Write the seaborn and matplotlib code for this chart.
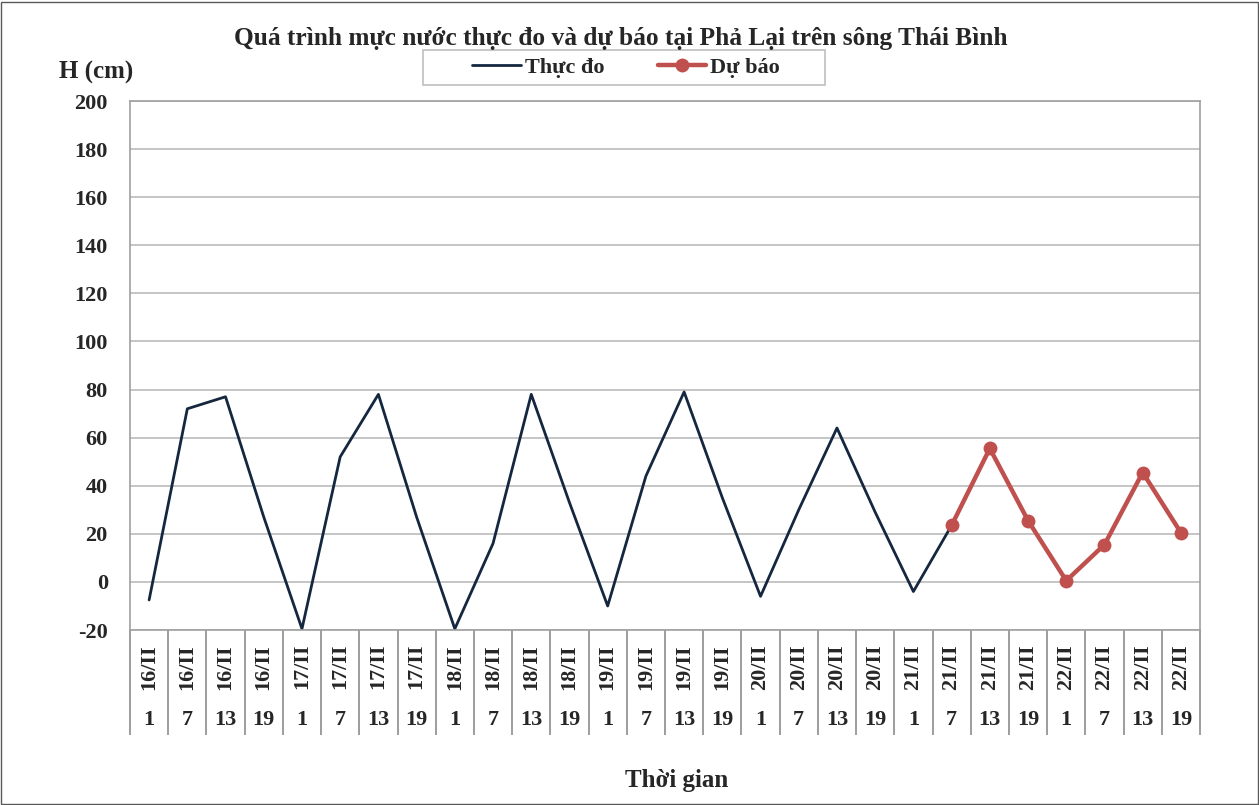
import numpy as np
import pandas as pd
import matplotlib
matplotlib.use("Agg")
import matplotlib.pyplot as plt
from matplotlib.patches import Rectangle
import seaborn as sns

# ---- data ----
dates = ["16/II"] * 4 + ["17/II"] * 4 + ["18/II"] * 4 + ["19/II"] * 4 + \
        ["20/II"] * 4 + ["21/II"] * 4 + ["22/II"] * 4
hours = [1, 7, 13, 19] * 7
observed = [-7.5, 72, 77, 27, -19.5, 52, 78, 27, -19.5, 16, 78, 33,
            -10, 44, 79, 35, -6, 30, 64, 29, -4, 23.5]
forecast = [23.5, 55.5, 25.5, 0.5, 15.5, 45.5, 20.5]
forecast_start = 21
yticks = list(range(-20, 201, 20))

title = "Quá trình mực nước thực đo và dự báo tại Phả Lại trên sông Thái Bình"
label_obs = "Thực đo"
label_fc = "Dự báo"

# ---- style ----
sns.set_style("white")
plt.rcParams["font.family"] = ["Liberation Serif", "DejaVu Serif"]
plt.rcParams["font.weight"] = "bold"

fig = plt.figure(figsize=(12.59, 8.05), dpi=100)
ax = fig.add_axes([130 / 1259, 1 - 630 / 805, 1070 / 1259, 529 / 805])

n = len(hours)
df_obs = pd.DataFrame({"idx": np.arange(len(observed)), "H": observed})
df_fc = pd.DataFrame({"idx": np.arange(forecast_start, forecast_start + len(forecast)), "H": forecast})

sns.lineplot(data=df_obs, x="idx", y="H", ax=ax, color="#15273F", linewidth=2.0,
             label=label_obs, legend=False)
sns.lineplot(data=df_fc, x="idx", y="H", ax=ax, color="#C0504D", linewidth=3.2,
             marker="o", markersize=10, markeredgewidth=0, label=label_fc, legend=False)

ax.set_xlim(-0.5, n - 0.5)
ax.set_ylim(-20, 200)
ax.set_yticks(yticks)
ax.set_yticklabels([str(v) for v in yticks], fontsize=16, fontweight="bold")
ax.yaxis.grid(True, color="#C0C0C0", linewidth=1.3)
ax.set_axisbelow(True)
ax.tick_params(axis="y", length=0, pad=16)
for s in ax.spines.values():
    s.set_color("#A0A0A0")
    s.set_linewidth(1.2)

# x axis: two-level category labels
ax.set_xticks(np.arange(n))
ax.set_xticklabels(dates, rotation=90, fontsize=16, fontweight="bold", va="top")
ax.tick_params(axis="x", which="major", length=0, pad=10, bottom=True)
ax.set_xticks(np.arange(-0.5, n), minor=True)
ax.tick_params(axis="x", which="minor", bottom=True, length=75.6, color="#8C8C8C",
               width=1.2, direction="out")
trans = ax.get_xaxis_transform()
for i, h in enumerate(hours):
    ax.text(i, -0.170, str(h), transform=trans, ha="center", va="center",
            fontsize=16, fontweight="bold")

ax.set_xlabel("")
ax.set_ylabel("")

fig.text(621 / 1259, 1 - 38 / 805, title, ha="center", va="center",
         fontsize=18.3, fontweight="bold")
fig.text(96 / 1259, 1 - 72 / 805, "H (cm)", ha="center", va="center",
         fontsize=18, fontweight="bold")
fig.text(677 / 1259, 1 - 780 / 805, "Thời gian", ha="center", va="center",
         fontsize=18, fontweight="bold")

leg = fig.legend(loc="center", bbox_to_anchor=(626 / 1259, 1 - 68 / 805), ncol=2,
                 frameon=False,
                 prop={"family": "Liberation Serif", "weight": "bold", "size": 16},
                 handlelength=2.2, columnspacing=2.4, borderpad=0.2, handletextpad=0.15)
fig.patches.append(Rectangle((423 / 1259, 1 - 85 / 805), 402 / 1259, 35 / 805,
                             transform=fig.transFigure, fill=True, facecolor="white",
                             edgecolor="#BFBFBF", linewidth=1.2, zorder=0))

fig.patches.append(Rectangle((0.0008, 0.001), 0.9984, 0.997, transform=fig.transFigure,
                             fill=False, edgecolor="#595959", linewidth=1.0))

fig.savefig("out.png", dpi=100)
